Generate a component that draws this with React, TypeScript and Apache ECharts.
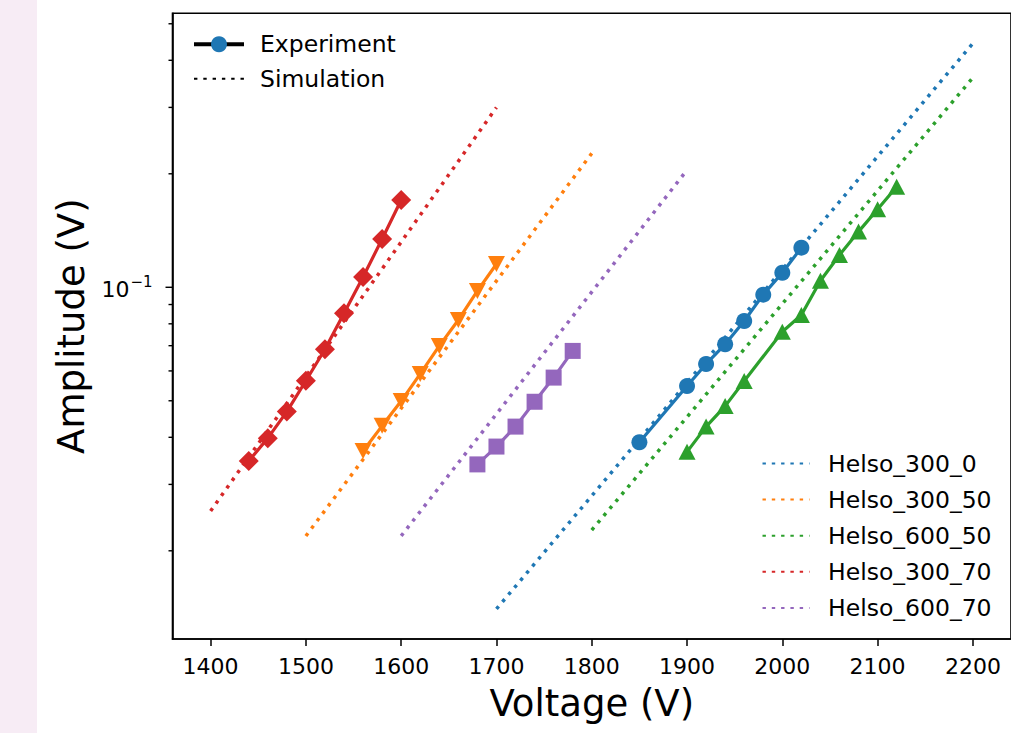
import React, { useEffect, useRef } from "react";
import * as echarts from "echarts";

const FONT = "'DejaVu Sans', 'Liberation Sans', sans-serif";

// Axis ticks
const xTicks = [1400, 1500, 1600, 1700, 1800, 1900, 2000, 2100, 2200];
const yMajorTicks = [0.1];
const yMinorTicks = [0.02, 0.03, 0.04, 0.05, 0.06, 0.07, 0.08, 0.09, 0.2, 0.3, 0.4, 0.5];

// Experiment data (Voltage V, Amplitude V)
const exp300_0_x = [1850, 1900, 1920, 1940, 1960, 1980, 2000, 2020];
const exp300_0_y = [0.0388, 0.0547, 0.0626, 0.0706, 0.0814, 0.0956, 0.1093, 0.1274];

const exp300_50_x = [1560, 1580, 1600, 1620, 1640, 1660, 1680, 1700];
const exp300_50_y = [0.0368, 0.0429, 0.0499, 0.0589, 0.0699, 0.0819, 0.0978, 0.1153];

const exp600_50_x = [1900, 1920, 1940, 1960, 2000, 2020, 2040, 2060, 2080, 2100, 2120];
const exp600_50_y = [0.0366, 0.0427, 0.0484, 0.0564, 0.0762, 0.0844, 0.1041, 0.1218, 0.1405, 0.161, 0.1848];

const exp300_70_x = [1440, 1460, 1480, 1500, 1520, 1540, 1560, 1580, 1600];
const exp300_70_y = [0.0346, 0.0398, 0.0468, 0.0565, 0.0685, 0.0853, 0.1065, 0.1343, 0.1704];

const exp600_70_x = [1680, 1700, 1720, 1740, 1760, 1780];
const exp600_70_y = [0.0339, 0.0378, 0.0427, 0.0497, 0.0576, 0.0678];

// Simulation data
const sim300_0_x = [1700, 2200];
const sim300_0_y = [0.01402, 0.4437];

const sim300_50_x = [1500, 1800];
const sim300_50_y = [0.0219, 0.2266];

const sim600_50_x = [1800, 2200];
const sim600_50_y = [0.0227, 0.3597];

const sim300_70_x = [1400, 1700];
const sim300_70_y = [0.0255, 0.3];

const sim600_70_x = [1600, 1900];
const sim600_70_y = [0.0219, 0.2047];

const simNames = ["Helso_300_0", "Helso_300_50", "Helso_600_50", "Helso_300_70", "Helso_600_70"];

const BLUE = "#1f77b4";
const ORANGE = "#ff7f0e";
const GREEN = "#2ca02c";
const RED = "#d62728";
const PURPLE = "#9467bd";

const zip = (xs: number[], ys: number[]) => xs.map((x, i) => [x, ys[i]]);

const DOT: number[] = [3.4, 5.9];

function expSeries(name: string, xs: number[], ys: number[], color: string, symbol: string, size: any, rotate = 0) {
  return {
    name,
    type: "line",
    data: zip(xs, ys),
    symbol,
    symbolSize: size,
    symbolRotate: rotate,
    showSymbol: true,
    itemStyle: { color, opacity: 1 },
    lineStyle: { color, width: 3.2 },
    z: 3,
    silent: true,
  };
}

function simSeries(name: string, xs: number[], ys: number[], color: string) {
  return {
    name,
    type: "line",
    data: zip(xs, ys),
    symbol: "none",
    itemStyle: { color },
    lineStyle: { color, width: 3.5, type: DOT, cap: "butt" },
    z: 2,
    silent: true,
  };
}

export default function App() {
  const ref = useRef<HTMLDivElement>(null);

  useEffect(() => {
    if (!ref.current) return;
    const chart = echarts.init(ref.current, null, { renderer: "svg" });
    const option: any = {
      animation: false,
      backgroundColor: "#ffffff",
      textStyle: { fontFamily: FONT, color: "#000" },
      grid: {
        left: 172.5,
        top: 13.3,
        right: -2,
        bottom: 94,
        show: true,
        borderColor: "#000",
        borderWidth: 1.6,
        backgroundColor: "transparent",
      },
      xAxis: {
        type: "value",
        min: 1360,
        max: 2240,
        name: "Voltage (V)",
        nameLocation: "middle",
        nameGap: 46,
        nameTextStyle: { fontSize: 37, fontFamily: FONT, color: "#000" },
        axisLine: { show: true, lineStyle: { color: "#000", width: 1.6 } },
        axisTick: { show: true, customValues: xTicks, length: 7, lineStyle: { color: "#000", width: 1.5 } },
        axisLabel: {
          customValues: xTicks,
          fontSize: 22,
          fontFamily: FONT,
          color: "#000",
          margin: 16,
          formatter: (v: number) => String(Math.round(v)),
        },
        splitLine: { show: false },
      },
      yAxis: {
        type: "log",
        logBase: 10,
        min: 0.01167,
        max: 0.533,
        name: "Amplitude (V)",
        nameLocation: "middle",
        nameGap: 83,
        nameTextStyle: { fontSize: 37, fontFamily: FONT, color: "#000" },
        axisLine: { show: true, lineStyle: { color: "#000", width: 1.6 } },
        axisTick: { show: false },
        axisLabel: {
          showMinLabel: false,
          showMaxLabel: false,
          margin: 20,
          formatter: (v: number) => (Math.abs(v - 0.1) < 1e-6 ? "{b|10}{s|\u22121}" : ""),
          rich: {
            b: { fontSize: 22, fontFamily: FONT, color: "#000", lineHeight: 22, padding: [5, 0, 0, 0] },
            s: { fontSize: 15, fontFamily: FONT, color: "#000", lineHeight: 15, padding: [0, 0, 10, 1] },
          },
        },
        splitLine: { show: false },
      },
      legend: [
        {
          left: 192,
          top: 32.3,
          orient: "vertical",
          padding: 0,
          itemWidth: 50,
          itemHeight: 20,
          itemGap: 10.5,
          selectedMode: false,
          textStyle: { fontSize: 23.5, fontFamily: FONT, color: "#000", padding: [0, 0, 0, 11] },
          data: [
            { name: "Experiment", lineStyle: { width: 4 } },
            { name: "Simulation", itemStyle: { opacity: 0 } },
          ],
        },
        {
          left: 761.5,
          top: 451.5,
          orient: "vertical",
          padding: 0,
          itemWidth: 47,
          itemHeight: 20,
          itemGap: 12.1,
          selectedMode: false,
          itemStyle: { opacity: 0 },
          textStyle: { fontSize: 23.5, fontFamily: FONT, color: "#000", padding: [0, 0, 0, 13.5] },
          data: simNames,
        },
      ],
      series: [
        {
          name: "Experiment",
          type: "line",
          data: [],
          symbol: "circle",
          symbolSize: 16,
          itemStyle: { color: BLUE },
          lineStyle: { color: "#000", width: 4 },
        },
        {
          name: "Simulation",
          type: "line",
          data: [],
          symbol: "none",
          itemStyle: { color: "#000" },
          lineStyle: { color: "#000", width: 3.5, type: DOT },
        },
        simSeries(simNames[0], sim300_0_x, sim300_0_y, BLUE),
        simSeries(simNames[1], sim300_50_x, sim300_50_y, ORANGE),
        simSeries(simNames[2], sim600_50_x, sim600_50_y, GREEN),
        simSeries(simNames[3], sim300_70_x, sim300_70_y, RED),
        simSeries(simNames[4], sim600_70_x, sim600_70_y, PURPLE),
        expSeries("exp_300_0", exp300_0_x, exp300_0_y, BLUE, "circle", 16),
        expSeries("exp_300_50", exp300_50_x, exp300_50_y, ORANGE, "triangle", [17, 16], 180),
        expSeries("exp_600_50", exp600_50_x, exp600_50_y, GREEN, "triangle", [17, 16]),
        expSeries("exp_300_70", exp300_70_x, exp300_70_y, RED, "diamond", 20),
        expSeries("exp_600_70", exp600_70_x, exp600_70_y, PURPLE, "rect", 16),
      ],
    };
    chart.setOption(option);

    const xLeft = chart.convertToPixel({ xAxisIndex: 0 }, 1360) as number;
    const tickDefs = [
      ...yMajorTicks.map((v) => ({ v, len: 7 })),
      ...yMinorTicks.map((v) => ({ v, len: 4 })),
    ];
    const graphics: any[] = [
      {
        type: "rect",
        z: -10,
        shape: { x: 0, y: 0, width: 37, height: 733 },
        style: { fill: "#f7ecf5" },
        silent: true,
      },
    ];
    tickDefs.forEach((t) => {
      const y = chart.convertToPixel({ yAxisIndex: 0 }, t.v) as number;
      graphics.push({
        type: "line",
        silent: true,
        shape: { x1: xLeft - t.len, y1: y, x2: xLeft, y2: y },
        style: { stroke: "#000", lineWidth: 1.4 },
      });
    });
    chart.setOption({ graphic: graphics });

    return () => {
      chart.dispose();
    };
  }, []);

  return (
    <div
      ref={ref}
      style={{ position: "absolute", left: 0, top: 0, width: 1011, height: 733, background: "#fff" }}
    />
  );
}
